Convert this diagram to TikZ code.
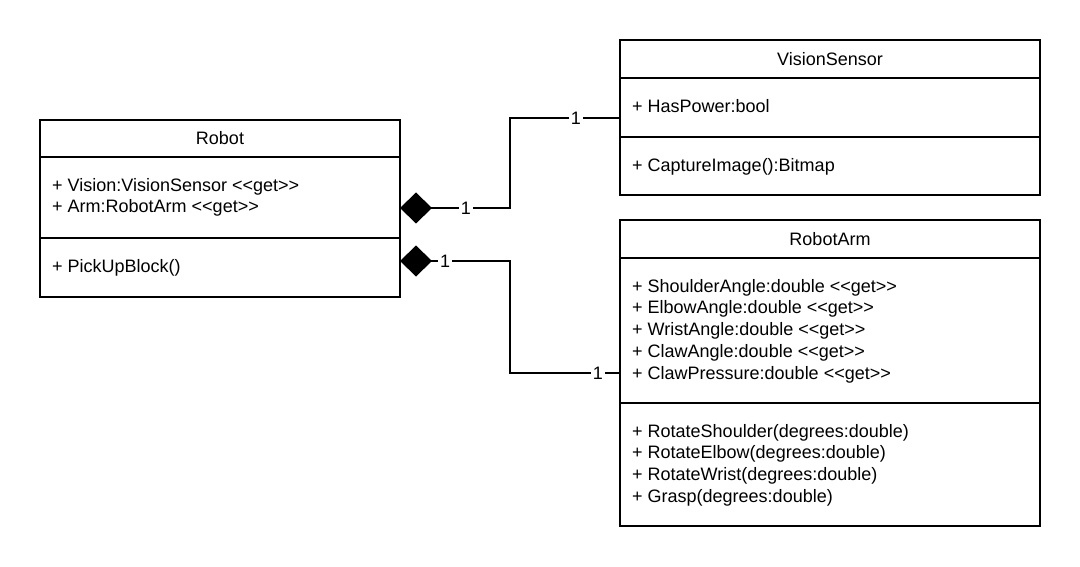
\documentclass[tikz,border=0pt]{standalone}
\usepackage{fontspec}
\setmainfont{Liberation Sans}
\usetikzlibrary{positioning,arrows.meta}
\newcommand{\umlfont}{\fontsize{18}{21.7}\selectfont}
\newcommand{\stereo}[1]{<\kern0pt<#1>\kern0pt>}
\tikzset{%
  cbox/.style  = { draw = black, line width = 2pt, outer sep = 0pt, inner sep = 0pt,
    minimum width = #1, font = \umlfont },
  mtext/.style = { align = left, inner sep = 0pt, font = \umlfont },
  assoc/.style = { {Diamond[length=32pt, width=31pt]}-, line width = 2pt },
  mult/.style  = { fill = white, inner xsep = 2pt, inner ysep = 1pt, font = \umlfont },
}

\begin{document}
\begin{tikzpicture}[x=1pt, y=1pt]
    \useasboundingbox (0,0) rectangle (1080,-567);
    % classes --------------------------------------------------------------------------------------
    % Robot
    \node(r0) [cbox=360pt, minimum height=37pt, anchor=north west] at (40,-120) {Robot};
    \node(r1) [cbox=360pt, minimum height=81pt, below = 0pt of r0] {};
    \node(r2) [cbox=360pt, minimum height=59pt, below = 0pt of r1] {};
    \node(r1t) [mtext, below right = 21pt and 12pt of r1.north west]
      {+ Vision:VisionSensor \stereo{get}\\+ Arm:RobotArm \stereo{get}};
    \node(r2t) [mtext, below right = 21pt and 12pt of r2.north west] {+ PickUpBlock()};
    % VisionSensor
    \node(v0) [cbox=420pt, minimum height=38pt, anchor=north west] at (620,-40) {VisionSensor};
    \node(v1) [cbox=420pt, minimum height=59pt, below = 0pt of v0] {};
    \node(v2) [cbox=420pt, minimum height=58pt, below = 0pt of v1] {};
    \node(v1t) [mtext, below right = 21pt and 12pt of v1.north west] {+ HasPower:bool};
    \node(v2t) [mtext, below right = 21pt and 12pt of v2.north west] {+ CaptureImage():Bitmap};
    % RobotArm
    \node(a0) [cbox=420pt, minimum height=38pt, anchor=north west] at (620,-220) {RobotArm};
    \node(a1) [cbox=420pt, minimum height=145pt, below = 0pt of a0] {};
    \node(a2) [cbox=420pt, minimum height=123pt, below = 0pt of a1] {};
    \node(a1t) [mtext, below right = 21pt and 12pt of a1.north west]
      {+ ShoulderAngle:double \stereo{get}\\+ ElbowAngle:double \stereo{get}\\
       + WristAngle:double \stereo{get}\\+ ClawAngle:double \stereo{get}\\
       + ClawPressure:double \stereo{get}};
    \node(a2t) [mtext, below right = 21pt and 12pt of a2.north west]
      {+ RotateShoulder(degrees:double)\\+ RotateElbow(degrees:double)\\
       + RotateWrist(degrees:double)\\+ Grasp(degrees:double)};
    % associations ---------------------------------------------------------------------------------
    \draw[assoc] ([yshift=-10.5pt]r1.east) -- ++(110,0) node[mult, pos=0.6] {1}
      |- ([yshift=-10.5pt]v1.west) node[mult, pos=0.8] {1};
    \draw[assoc] ([yshift=6.5pt]r2.east) -- ++(110,0) node[mult, pos=0.41] {1}
      |- ([yshift=-42.5pt]a1.west) node[mult, pos=0.9] {1};
\end{tikzpicture}
\end{document}
